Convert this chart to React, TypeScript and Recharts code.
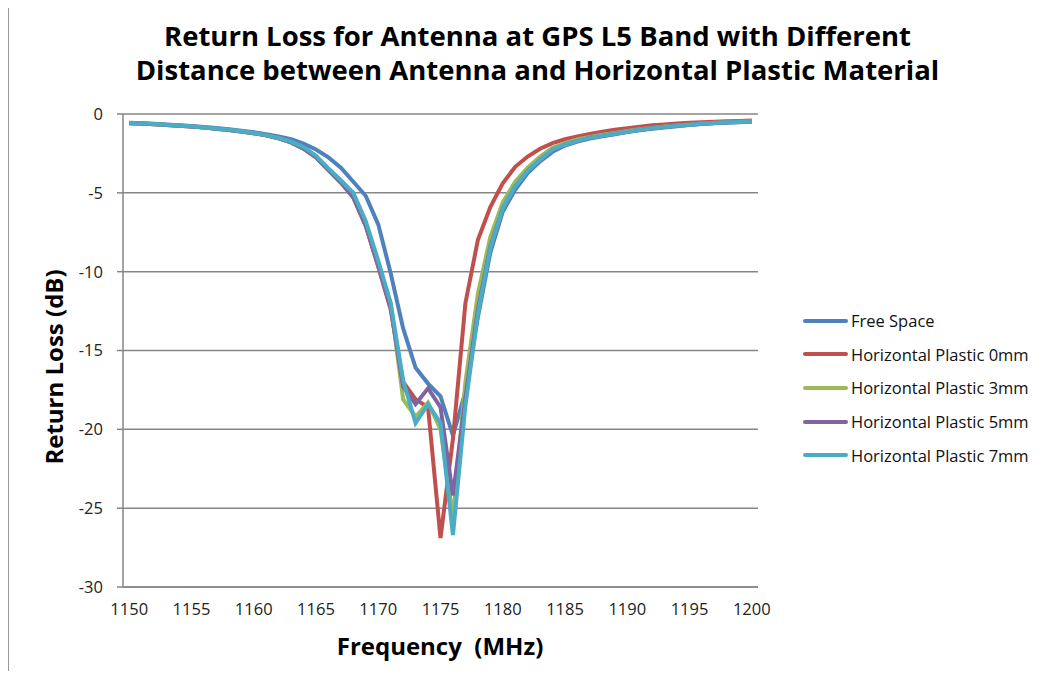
import React from "react";
import { LineChart, Line, XAxis, YAxis, CartesianGrid } from "recharts";

// frequency points, MHz
const freqs = [
  1150, 1151, 1152, 1153, 1154, 1155, 1156, 1157, 1158, 1159,
  1160, 1161, 1162, 1163, 1164, 1165, 1166, 1167, 1168, 1169,
  1170, 1171, 1172, 1173, 1174, 1175, 1176, 1177, 1178, 1179,
  1180, 1181, 1182, 1183, 1184, 1185, 1186, 1187, 1188, 1189,
  1190, 1191, 1192, 1193, 1194, 1195, 1196, 1197, 1198, 1199, 1200,
];

const freeSpace = [
  -0.55, -0.58, -0.62, -0.66, -0.71, -0.76, -0.82, -0.89, -0.97, -1.06,
  -1.16, -1.28, -1.42, -1.6, -1.88, -2.25, -2.75, -3.4, -4.3, -5.2,
  -7.0, -10.1, -13.6, -16.1, -17.1, -17.9, -20.4, -17.6, -12.9, -8.8,
  -6.2, -4.8, -3.75, -3.0, -2.4, -2.0, -1.75, -1.55, -1.42, -1.28,
  -1.15, -1.03, -0.93, -0.85, -0.77, -0.7, -0.64, -0.59, -0.55, -0.52, -0.49,
];

const plastic0 = [
  -0.58, -0.61, -0.65, -0.69, -0.74, -0.79, -0.86, -0.93, -1.01, -1.11,
  -1.22, -1.35, -1.54, -1.8, -2.2, -2.75, -3.55, -4.35, -5.3, -7.1,
  -9.7, -12.4, -17.0, -18.1, -18.6, -26.9, -20.6, -12.0, -8.0, -5.9,
  -4.4, -3.35, -2.7, -2.2, -1.85, -1.6, -1.42, -1.26, -1.12, -1.0,
  -0.9, -0.8, -0.72, -0.66, -0.6, -0.56, -0.52, -0.49, -0.46, -0.44, -0.42,
];

const plastic3 = [
  -0.58, -0.61, -0.65, -0.69, -0.74, -0.79, -0.86, -0.93, -1.01, -1.11,
  -1.22, -1.35, -1.54, -1.8, -2.2, -2.75, -3.55, -4.35, -5.3, -7.1,
  -9.6, -12.0, -18.1, -19.2, -18.3, -20.0, -25.6, -17.0, -11.4, -7.8,
  -5.6, -4.3, -3.4, -2.7, -2.15, -1.85, -1.62, -1.45, -1.32, -1.2,
  -1.08, -0.97, -0.88, -0.8, -0.73, -0.67, -0.61, -0.56, -0.52, -0.49, -0.46,
];

const plastic5 = [
  -0.58, -0.61, -0.65, -0.69, -0.74, -0.79, -0.86, -0.93, -1.01, -1.11,
  -1.22, -1.35, -1.54, -1.8, -2.2, -2.75, -3.55, -4.35, -5.3, -7.1,
  -9.6, -12.3, -17.3, -18.4, -17.4, -18.6, -24.2, -18.0, -12.4, -8.4,
  -6.0, -4.6, -3.6, -2.9, -2.3, -1.95, -1.7, -1.5, -1.38, -1.25,
  -1.12, -1.0, -0.9, -0.82, -0.75, -0.68, -0.62, -0.57, -0.53, -0.5, -0.48,
];

const plastic7 = [
  -0.57, -0.6, -0.64, -0.68, -0.73, -0.78, -0.85, -0.92, -1.0, -1.1,
  -1.21, -1.34, -1.52, -1.75, -2.1, -2.65, -3.45, -4.2, -5.0, -6.8,
  -9.3, -12.0, -16.9, -19.6, -18.4, -19.6, -26.7, -18.5, -12.7, -8.5,
  -6.0, -4.6, -3.6, -2.9, -2.25, -1.95, -1.7, -1.5, -1.38, -1.25,
  -1.12, -1.0, -0.9, -0.82, -0.75, -0.68, -0.62, -0.57, -0.53, -0.5, -0.48,
];

const xTicks = [1150, 1155, 1160, 1165, 1170, 1175, 1180, 1185, 1190, 1195, 1200];
const yTicks = [0, -5, -10, -15, -20, -25, -30];

const SERIES = [
  { key: "fs", name: "Free Space", color: "#4F81BD", values: freeSpace },
  { key: "p0", name: "Horizontal Plastic 0mm", color: "#C0504D", values: plastic0 },
  { key: "p3", name: "Horizontal Plastic 3mm", color: "#9BBB59", values: plastic3 },
  { key: "p5", name: "Horizontal Plastic 5mm", color: "#8064A2", values: plastic5 },
  { key: "p7", name: "Horizontal Plastic 7mm", color: "#4BACC6", values: plastic7 },
];

const data = freqs.map((f, i) => {
  const row: Record<string, number> = { freq: f };
  SERIES.forEach((s) => (row[s.key] = s.values[i]));
  return row;
});

const FONT = "'Open Sans', Lato, sans-serif";
const GRID = "#868686";

function LegendBox() {
  return (
    <div style={{ position: "absolute", left: 803, top: 304, fontFamily: FONT, fontSize: 16.5, color: "#111" }}>
      {SERIES.map((s) => (
        <div key={s.key} style={{ display: "flex", alignItems: "center", height: 33.6, whiteSpace: "nowrap" }}>
          <div style={{ width: 45, height: 4, borderRadius: 2, background: s.color, marginRight: 3 }} />
          <span>{s.name}</span>
        </div>
      ))}
    </div>
  );
}

export default function App() {
  return (
    <div style={{ position: "relative", width: 1056, height: 679, margin: -8, background: "#fff", overflow: "hidden" }}>
      <div style={{ position: "absolute", left: 8, top: 3, right: 0, height: 2, background: "#999" }} />
      <div style={{ position: "absolute", left: 7, top: 3, width: 2, bottom: 0, background: "#999" }} />
      <div
        style={{
          position: "absolute", left: 0, width: 1075, top: 19, textAlign: "center",
          fontFamily: FONT, fontWeight: 700, fontSize: 27.5, lineHeight: "34px", color: "#000",
        }}
      >
        Return Loss for Antenna at GPS L5 Band with Different
        <br />
        Distance between Antenna and Horizontal Plastic Material
      </div>
      <div
        style={{
          position: "absolute", left: 53, top: 367, transform: "translate(-50%, -50%) rotate(-90deg)",
          whiteSpace: "nowrap", fontFamily: FONT, fontWeight: 700, fontSize: 24, color: "#000",
        }}
      >
        Return Loss (dB)
      </div>
      <div
        style={{
          position: "absolute", left: 440, top: 645, transform: "translate(-50%, -50%)",
          whiteSpace: "pre", fontFamily: FONT, fontWeight: 700, fontSize: 24, color: "#000",
        }}
      >
        {"Frequency  (MHz)"}
      </div>
      <div style={{ position: "absolute", left: 0, top: 0 }}>
        <LineChart width={1056} height={679} data={data} margin={{ top: 114, right: 298, bottom: 62, left: 63 }}>
          <CartesianGrid vertical={false} stroke={GRID} strokeWidth={1.5} />
          <XAxis
            dataKey="freq"
            type="number"
            domain={[1149.5, 1200.5]}
            ticks={xTicks}
            interval={0}
            tickLine={false}
            axisLine={{ stroke: GRID, strokeWidth: 1.5 }}
            tick={{ fill: "#222", fontSize: 16.5, fontFamily: FONT }}
            tickMargin={10}
            height={30}
          />
          <YAxis
            type="number"
            domain={[-30, 0]}
            ticks={yTicks}
            interval={0}
            width={60}
            tickSize={6}
            tickMargin={14}
            tickLine={{ stroke: GRID, strokeWidth: 1.5 }}
            axisLine={{ stroke: GRID, strokeWidth: 1.5 }}
            tick={{ fill: "#222", fontSize: 16.5, fontFamily: FONT }}
          />
          {SERIES.map((s) => (
            <Line
              key={s.key}
              dataKey={s.key}
              name={s.name}
              type="linear"
              stroke={s.color}
              strokeWidth={4}
              dot={false}
              isAnimationActive={false}
            />
          ))}
        </LineChart>
      </div>
      <LegendBox />
    </div>
  );
}
